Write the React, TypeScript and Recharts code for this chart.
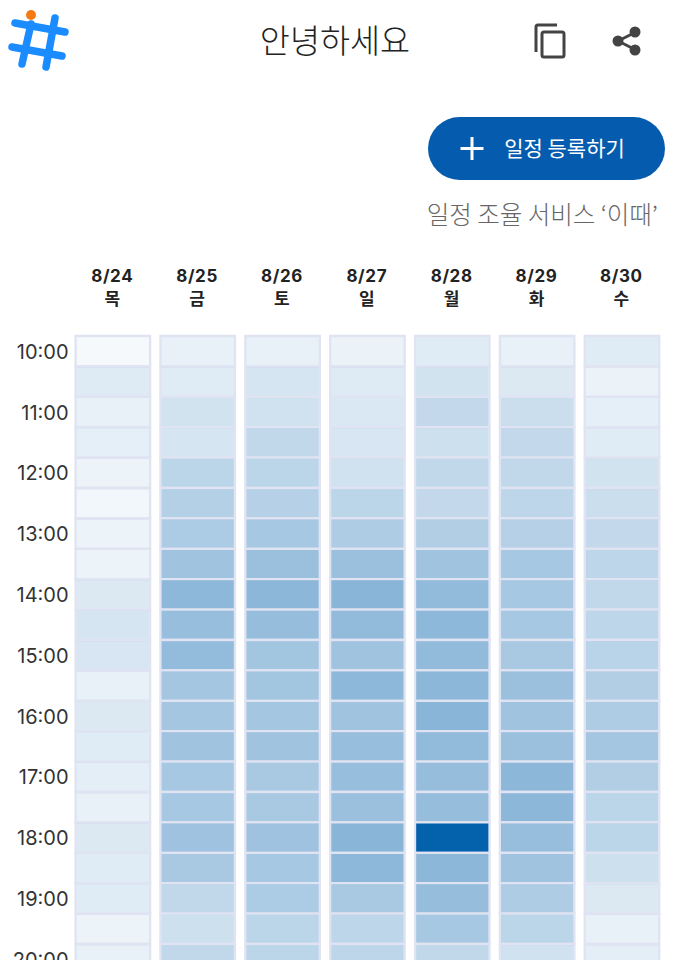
import { BarChart, Bar, Cell, XAxis, YAxis } from 'recharts'

const DATES = ['8/24', '8/25', '8/26', '8/27', '8/28', '8/29', '8/30']
const WEEKDAYS = ['목', '금', '토', '일', '월', '화', '수']
const TIME_LABELS = ['10:00', '11:00', '12:00', '13:00', '14:00', '15:00', '16:00', '17:00', '18:00', '19:00', '20:00']

// share of people free per half hour slot, in percent
const aug24 = [4, 13, 9, 10, 7, 5, 7, 7, 14, 17, 16, 9, 14, 12, 11, 9, 14, 12, 12, 7, 9]
const aug25 = [9, 12, 18, 17, 27, 30, 33, 38, 45, 41, 43, 36, 36, 38, 35, 35, 39, 34, 25, 20, 25]
const aug26 = [9, 17, 19, 25, 27, 29, 35, 40, 46, 42, 37, 37, 36, 38, 34, 34, 39, 35, 33, 27, 27]
const aug27 = [8, 13, 15, 16, 19, 27, 32, 40, 47, 44, 38, 45, 38, 41, 41, 40, 47, 45, 34, 26, 26]
const aug28 = [12, 18, 24, 20, 25, 24, 31, 38, 44, 45, 44, 46, 47, 44, 42, 42, 100, 46, 42, 35, 25]
const aug29 = [9, 14, 21, 24, 25, 26, 29, 35, 35, 35, 34, 40, 38, 40, 46, 46, 41, 38, 32, 27, 19]
const aug30 = [12, 8, 10, 12, 18, 21, 24, 26, 25, 26, 28, 31, 32, 36, 31, 27, 27, 20, 14, 9, 11]

const SERIES = [aug24, aug25, aug26, aug27, aug28, aug29, aug30]
const SLOTS = aug24.map((_, i) => `slot${i}`)

const FONT = "Inter, 'Noto Sans CJK KR', sans-serif"
const KR_FONT = "'Noto Sans CJK KR', sans-serif"

const tableData = DATES.map((date, d) => {
  const row: { [key: string]: string | number } = { date, weekday: WEEKDAYS[d] }
  SLOTS.forEach(slot => {
    row[slot] = 1
  })
  return row
})

const DayTick = ({ x, y, payload, index }: any) => (
  <g fontWeight={700} fill="#222" textAnchor="middle">
    <text x={x - 0.8} y={y} dy={-46} fontSize={17} letterSpacing={0.6} fontFamily={FONT}>{payload.value}</text>
    <text x={x - 0.8} y={y} dy={-23} fontSize={17} fontFamily={KR_FONT}>{WEEKDAYS[index]}</text>
  </g>
)

function Header() {
  return (
    <svg width={675} height={240} style={{ position: 'absolute', left: 0, top: 0 }}>
      <g stroke="#1a8cff" strokeWidth={7.5} strokeLinecap="round">
        <line x1={15} y1={23} x2={65} y2={32} />
        <line x1={12} y1={47} x2={62} y2={56} />
        <line x1={31} y1={24} x2={22} y2={64} />
        <line x1={55} y1={18} x2={46} y2={67} />
      </g>
      <circle cx={31} cy={15} r={5} fill="#f57a14" />
      <text x={335} y={53} textAnchor="middle" fontSize={32.7} fontFamily={KR_FONT} fill="#222" fontWeight={300}>안녕하세요</text>
      <g fill="none" stroke="#444" strokeWidth={3}>
        <path d="M536 52 V27 Q536 25 538 25 H557" />
        <rect x={542} y={32} width={22} height={25} rx={2} />
      </g>
      <g stroke="#444" strokeWidth={3}>
        <line x1={636} y1={32} x2={618} y2={41} />
        <line x1={636} y1={50} x2={618} y2={41} />
      </g>
      <g fill="#444">
        <circle cx={635} cy={32} r={5.5} />
        <circle cx={618} cy={41} r={5.5} />
        <circle cx={635} cy={50} r={5.5} />
      </g>
      <rect x={428} y={117} width={237} height={63} rx={31.5} fill="#055cae" />
      <path d="M472 137 V160 M460.500 148.500 H483.500" stroke="#fff" strokeWidth={3} />
      <text x={564.500} y={156} textAnchor="middle" fontSize={21} fontFamily={KR_FONT} fill="#fff">일정 등록하기</text>
      <text x={658} y={224} textAnchor="end" fontSize={24.500} fontFamily={KR_FONT} fill="#666" fontWeight={300}>일정 조율 서비스 ‘이때’</text>
    </svg>
  )
}

export default function App() {
  return (
    <div style={{ position: 'absolute', left: 0, top: 0, width: 675, height: 960, overflow: 'hidden', background: '#fff' }}>
      <Header />
      <BarChart
        width={675}
        height={975}
        data={tableData}
        margin={{ top: 256, right: 10.4, bottom: 0.6, left: 0 }}
        barCategoryGap={0}
        style={{ position: 'absolute', left: 0, top: 0 }}
      >
        <XAxis
          dataKey="date"
          orientation="top"
          height={80}
          axisLine={false}
          tickLine={false}
          tick={<DayTick />}
          interval={0}
        />
        <YAxis
          type="number"
          domain={[0, SLOTS.length]}
          reversed
          width={70.6}
          ticks={TIME_LABELS.map((_, i) => i * 2 + 0.5)}
          tickFormatter={(v: number) => TIME_LABELS[(v - 0.5) / 2]}
          interval={0}
          axisLine={false}
          tickLine={false}
          tickSize={0}
          tickMargin={2}
          tick={{ fontSize: 20, fill: '#333', fontFamily: FONT, dy: 0.5 }}
        />
        {SLOTS.map((slot, s) => (
          <Bar key={slot} dataKey={slot} stackId="day" barSize={74.5} isAnimationActive={false}>
            {DATES.map((date, d) => (
              <Cell
                key={date}
                fill={`rgba(4,98,172,${SERIES[d][s] / 100})`}
                stroke="#e0e4f2"
                strokeWidth={2.3}
              />
            ))}
          </Bar>
        ))}
      </BarChart>
    </div>
  )
}
